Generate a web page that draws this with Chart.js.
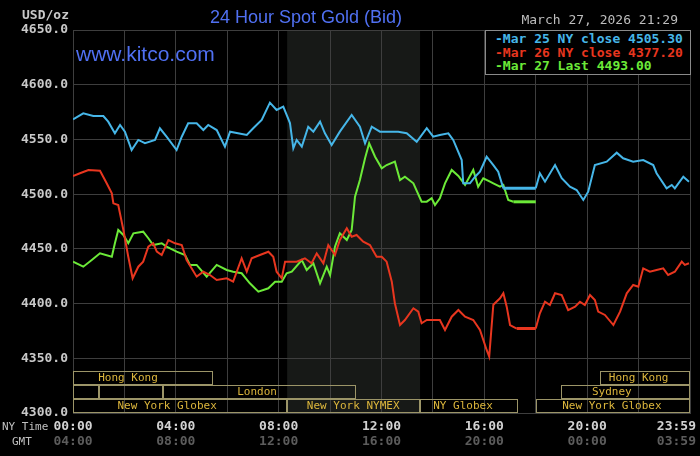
<!DOCTYPE html>
<html>
<head>
<meta charset="utf-8">
<script src="https://cdn.jsdelivr.net/npm/chart.js@4/dist/chart.umd.min.js"></script>
<style>
  html, body { margin: 0; padding: 0; background: #000; }
  #wrap { position: relative; width: 700px; height: 456px; overflow: hidden; background: #000; }
  #goldChart { position: absolute; left: 0; top: 0; }
  .txt { position: absolute; white-space: pre; }
  #units { left: 22px; top: 7px; font: bold 13px "DejaVu Sans Mono", monospace; color: #c8c8c8; }
  #title { left: 0; width: 612px; top: 7px; text-align: center; font: 18px "Liberation Sans", Arial, sans-serif; color: #5070f2; }
  #site { left: 76px; top: 42px; font: 21px "Liberation Sans", Arial, sans-serif; color: #5070f2; }
  #stamp { right: 22px; top: 12px; font: 13px "DejaVu Sans Mono", monospace; color: #bdbdbd; }
  #legendBox { position: absolute; left: 485px; top: 30px; width: 195px; height: 42px; background: #000;
               border: 1px solid #8a8a8a; padding: 1px 0 0 9px; box-sizing: content-box;
               font: bold 13px/13.5px "DejaVu Sans Mono", monospace; }
  #rowNY { left: 2px; top: 420px; font: 11px "DejaVu Sans Mono", monospace; color: #c0c0c0; }
  #rowGMT { left: 12px; top: 435px; font: 11px "DejaVu Sans Mono", monospace; color: #c0c0c0; }
</style>
</head>
<body>
<div id="wrap">
  <canvas id="goldChart" width="700" height="456"></canvas>
  <div class="txt" id="units">USD/oz</div>
  <div class="txt" id="title">24 Hour Spot Gold (Bid)</div>
  <div class="txt" id="site">www.kitco.com</div>
  <div class="txt" id="stamp">March 27, 2026 21:29</div>
  <div id="legendBox"></div>
  <div class="txt" id="rowNY">NY Time</div>
  <div class="txt" id="rowGMT">GMT</div>
</div>
<script>
// hours since 00:00 NY time, prices in USD/oz
const mar25Hours = [0,0.40,0.79,1.18,1.37,1.63,1.83,2.02,2.28,2.54,2.80,3.19,3.38,3.64,4.03,4.23,4.48,4.81,5.07,5.26,5.59,5.91,6.11,6.76,7.01,7.34,7.66,7.92,8.18,8.44,8.57,8.70,8.90,9.15,9.35,9.61,9.80,10.06,10.38,10.84,11.16,11.36,11.62,11.94,12.33,12.65,12.98,13.37,13.76,14.01,14.27,14.60,14.79,15.12,15.18,15.44,15.64,15.83,16.09,16.35,16.54,16.74,18.00,18.16,18.36,18.75,19.01,19.33,19.59,19.85,20.04,20.30,20.76,21.15,21.40,21.79,22.18,22.57,22.70,23.09,23.29,23.41,23.74,23.96];
const mar25Prices = [4568.4,4573.9,4571.4,4571.4,4566.2,4555.6,4563.2,4557.1,4540.3,4549.5,4546.5,4549.5,4560.2,4552.5,4540.3,4552.5,4564.7,4564.7,4558.6,4563.2,4558.6,4543.4,4557.1,4554.1,4560.2,4567.8,4583.6,4576.9,4579.9,4565.0,4541.9,4549.5,4543.4,4561.6,4557.1,4566.2,4555.6,4544.9,4557.1,4572.3,4561.6,4546.5,4561.6,4557.1,4557.1,4557.1,4555.6,4547.9,4560.2,4552.5,4554.1,4555.6,4549.5,4531.2,4509.9,4509.9,4515.9,4520.5,4534.2,4526.6,4520.5,4505.3,4505.3,4519.1,4511.4,4526.6,4514.5,4506.8,4503.8,4494.7,4502.2,4526.6,4529.7,4537.9,4532.8,4529.7,4531.2,4526.6,4519.1,4505.3,4508.4,4505.3,4515.9,4511.4];

const mar26Hours = [0,0.27,0.60,1.05,1.31,1.51,1.57,1.76,1.96,2.15,2.32,2.54,2.73,2.93,3.12,3.26,3.45,3.71,3.97,4.23,4.42,4.81,5.07,5.33,5.59,5.98,6.23,6.56,6.76,6.95,7.27,7.60,7.79,7.92,8.12,8.25,8.70,9.02,9.28,9.48,9.74,9.93,10.19,10.38,10.65,10.84,11.03,11.29,11.55,11.81,12.01,12.20,12.40,12.52,12.72,12.91,13.24,13.43,13.56,13.76,14.08,14.27,14.47,14.73,14.99,15.25,15.57,15.83,16.09,16.19,16.35,16.61,16.74,16.87,17.00,17.26,18.00,18.16,18.36,18.55,18.75,19.01,19.26,19.53,19.72,19.91,20.11,20.30,20.43,20.69,21.02,21.28,21.54,21.79,21.99,22.18,22.44,22.70,22.96,23.15,23.41,23.68,23.80,23.96];
const mar26Prices = [4516.6,4519.1,4522.1,4521.4,4509.9,4500.8,4491.6,4490.1,4467.2,4442.8,4423.1,4433.7,4438.3,4452.0,4455.1,4447.4,4444.4,4458.1,4455.1,4453.5,4439.8,4424.6,4429.1,4426.1,4421.5,4423.1,4420.0,4441.4,4429.1,4441.4,4444.4,4447.4,4442.8,4429.1,4423.1,4438.3,4438.3,4441.4,4436.8,4445.9,4436.8,4453.5,4444.4,4458.1,4468.8,4461.1,4462.7,4456.5,4453.5,4442.8,4442.8,4438.3,4420.0,4400.3,4380.4,4385.0,4395.7,4392.6,4382.0,4385.0,4385.0,4385.0,4375.9,4388.0,4394.1,4388.0,4385.0,4375.9,4357.6,4351.5,4399.0,4404.8,4409.4,4397.2,4380.4,4377.2,4377.2,4391.1,4401.7,4398.7,4409.4,4407.8,4394.1,4397.2,4401.7,4398.7,4407.8,4403.3,4392.6,4389.6,4380.4,4392.6,4409.4,4417.0,4415.4,4432.2,4429.1,4430.7,4432.2,4426.1,4429.1,4438.3,4435.3,4436.8];

const mar27Hours = [0,0.40,0.73,1.05,1.51,1.63,1.76,1.96,2.15,2.35,2.73,2.93,3.12,3.45,3.64,4.03,4.36,4.55,4.81,5.20,5.59,5.98,6.23,6.56,6.88,7.21,7.60,7.86,8.12,8.31,8.51,8.90,9.09,9.35,9.61,9.87,10.00,10.19,10.38,10.65,10.84,10.97,11.16,11.36,11.52,11.75,12.01,12.20,12.52,12.72,12.91,13.24,13.56,13.76,13.95,14.08,14.27,14.47,14.73,14.99,15.25,15.57,15.76,15.96,16.22,16.35,16.61,16.74,16.93,17.13,18.00];
const mar27Prices = [4438.3,4433.7,4439.8,4445.9,4442.8,4455.1,4467.2,4462.7,4455.1,4464.2,4465.7,4459.7,4453.5,4455.1,4452.0,4447.4,4444.4,4435.3,4435.3,4424.6,4435.3,4430.7,4429.1,4427.7,4418.5,4410.9,4414.0,4420.0,4420.0,4427.7,4429.1,4439.8,4430.7,4436.8,4418.5,4433.7,4426.1,4452.0,4464.2,4458.1,4467.2,4497.7,4512.9,4532.8,4546.5,4534.2,4523.6,4526.6,4529.7,4512.9,4515.9,4509.9,4493.1,4493.1,4496.2,4490.1,4496.2,4509.9,4522.1,4516.6,4508.4,4522.1,4506.8,4514.5,4511.4,4509.9,4506.8,4508.4,4494.7,4493.0,4493.0];

const seriesNames = ['Mar 25 NY close 4505.30', 'Mar 26 NY close 4377.20', 'Mar 27 Last 4493.00'];
const seriesColors = ['#46b6e8', '#e8361f', '#6cea38'];

const tickHours = [0, 4, 8, 12, 16, 20, 24];
const nyTimeLabels = ['00:00', '04:00', '08:00', '12:00', '16:00', '20:00', '23:59'];
const gmtTimeLabels = ['04:00', '08:00', '12:00', '16:00', '20:00', '00:00', '03:59'];

// trading sessions (row 0 = top row), label hour = where the name sits
const sessionNames = ['Hong Kong', 'Hong Kong', '', '', 'London', 'Sydney', 'New York Globex', 'New York NYMEX', 'NY Globex', 'New York Globex'];
const sessionStart = [0, 20.5, 0, 1, 3.5, 19, 0, 8.33, 13.5, 18];
const sessionEnd = [5.45, 24, 1, 3.5, 11, 24, 8.33, 13.5, 17.3, 24];
const sessionRow = [0, 0, 1, 1, 1, 1, 2, 2, 2, 2];
const sessionLabelHour = [2.14, 22.0, 0, 0, 7.16, 20.96, 3.66, 10.9, 15.17, 20.96];
const nymexHours = [8.33, 13.5];

const legendBox = document.getElementById('legendBox');
seriesNames.forEach((name, i) => {
    const d = document.createElement('div');
    d.style.color = seriesColors[i];
    d.textContent = '-' + name;
    legendBox.appendChild(d);
});

function toPoints(hours, prices) {
    return hours.map((h, i) => ({ x: h, y: prices[i] }));
}

const kitcoDecor = {
    id: 'kitcoDecor',
    beforeDraw(chart) {
        const { ctx, chartArea: a, scales: { x } } = chart;
        ctx.save();
        ctx.fillStyle = '#000';
        ctx.fillRect(0, 0, chart.width, chart.height);
        const x0 = x.getPixelForValue(nymexHours[0]);
        const x1 = x.getPixelForValue(nymexHours[1]);
        ctx.fillStyle = '#171917';
        ctx.fillRect(x0, a.top, x1 - x0, a.bottom - a.top);
        ctx.restore();
    },
    beforeDatasetsDraw(chart) {
        const { ctx, chartArea: a, scales: { x } } = chart;
        const rowH = 14;
        ctx.save();
        ctx.strokeStyle = '#9c9568';
        ctx.lineWidth = 1;
        ctx.fillStyle = '#dcb63c';
        ctx.font = '11px "DejaVu Sans Mono", monospace';
        ctx.textAlign = 'center';
        ctx.textBaseline = 'middle';
        sessionNames.forEach((name, i) => {
            const top = a.bottom - (3 - sessionRow[i]) * rowH;
            const x0 = Math.round(x.getPixelForValue(sessionStart[i]));
            const x1 = Math.round(x.getPixelForValue(sessionEnd[i]));
            ctx.strokeRect(x0 + 0.5, top + 0.5, x1 - x0 - 1, rowH - 1);
            if (name) ctx.fillText(name, x.getPixelForValue(sessionLabelHour[i]), top + rowH / 2 + 0.5);
        });
        ctx.restore();
    },
    afterDraw(chart) {
        const { ctx, scales: { x } } = chart;
        ctx.save();
        ctx.font = 'bold 13px "DejaVu Sans Mono", monospace';
        ctx.textBaseline = 'middle';
        tickHours.forEach((h, i) => {
            let px = x.getPixelForValue(h);
            const w = ctx.measureText(nyTimeLabels[i]).width;
            if (px + w / 2 > chart.width - 4) px = chart.width - 4 - w / 2;
            ctx.textAlign = 'center';
            ctx.fillStyle = '#d2d2d2';
            ctx.fillText(nyTimeLabels[i], px, 427);
            ctx.fillStyle = '#5c5c5c';
            ctx.fillText(gmtTimeLabels[i], px, 442);
        });
        ctx.restore();
    }
};

const gridColor = '#3e3e3e';
// flat stretches (market closed) are drawn a little heavier
const flatSegment = { borderWidth: c => (c.p0.parsed.y === c.p1.parsed.y && c.p1.parsed.x - c.p0.parsed.x > 0.5) ? 3 : 2 };

new Chart(document.getElementById('goldChart'), {
    type: 'line',
    data: {
        datasets: [
            { label: seriesNames[0], data: toPoints(mar25Hours, mar25Prices), borderColor: seriesColors[0], segment: flatSegment },
            { label: seriesNames[1], data: toPoints(mar26Hours, mar26Prices), borderColor: seriesColors[1], segment: flatSegment },
            { label: seriesNames[2], data: toPoints(mar27Hours, mar27Prices), borderColor: seriesColors[2], segment: flatSegment }
        ]
    },
    options: {
        responsive: false,
        animation: false,
        devicePixelRatio: 1,
        layout: { padding: { top: 30, right: 10, bottom: 43, left: 0 } },
        elements: {
            point: { radius: 0 },
            line: { borderWidth: 2, tension: 0 }
        },
        plugins: { legend: { display: false }, title: { display: false }, tooltip: { enabled: false } },
        scales: {
            x: {
                type: 'linear',
                min: 0,
                max: 24,
                ticks: { stepSize: 2, display: false },
                grid: { color: gridColor, drawTicks: false },
                border: { color: gridColor },
                afterFit: s => { s.height = 0; }
            },
            y: {
                min: 4300,
                max: 4650,
                ticks: {
                    stepSize: 50,
                    padding: 5,
                    color: '#c8c8c8',
                    font: { family: 'DejaVu Sans Mono', size: 13, weight: 'bold' },
                    callback: v => v.toFixed(1)
                },
                grid: { color: gridColor, drawTicks: false },
                border: { color: gridColor },
                afterFit: s => { s.width = 73; }
            }
        }
    },
    plugins: [kitcoDecor]
});
</script>
</body>
</html>
